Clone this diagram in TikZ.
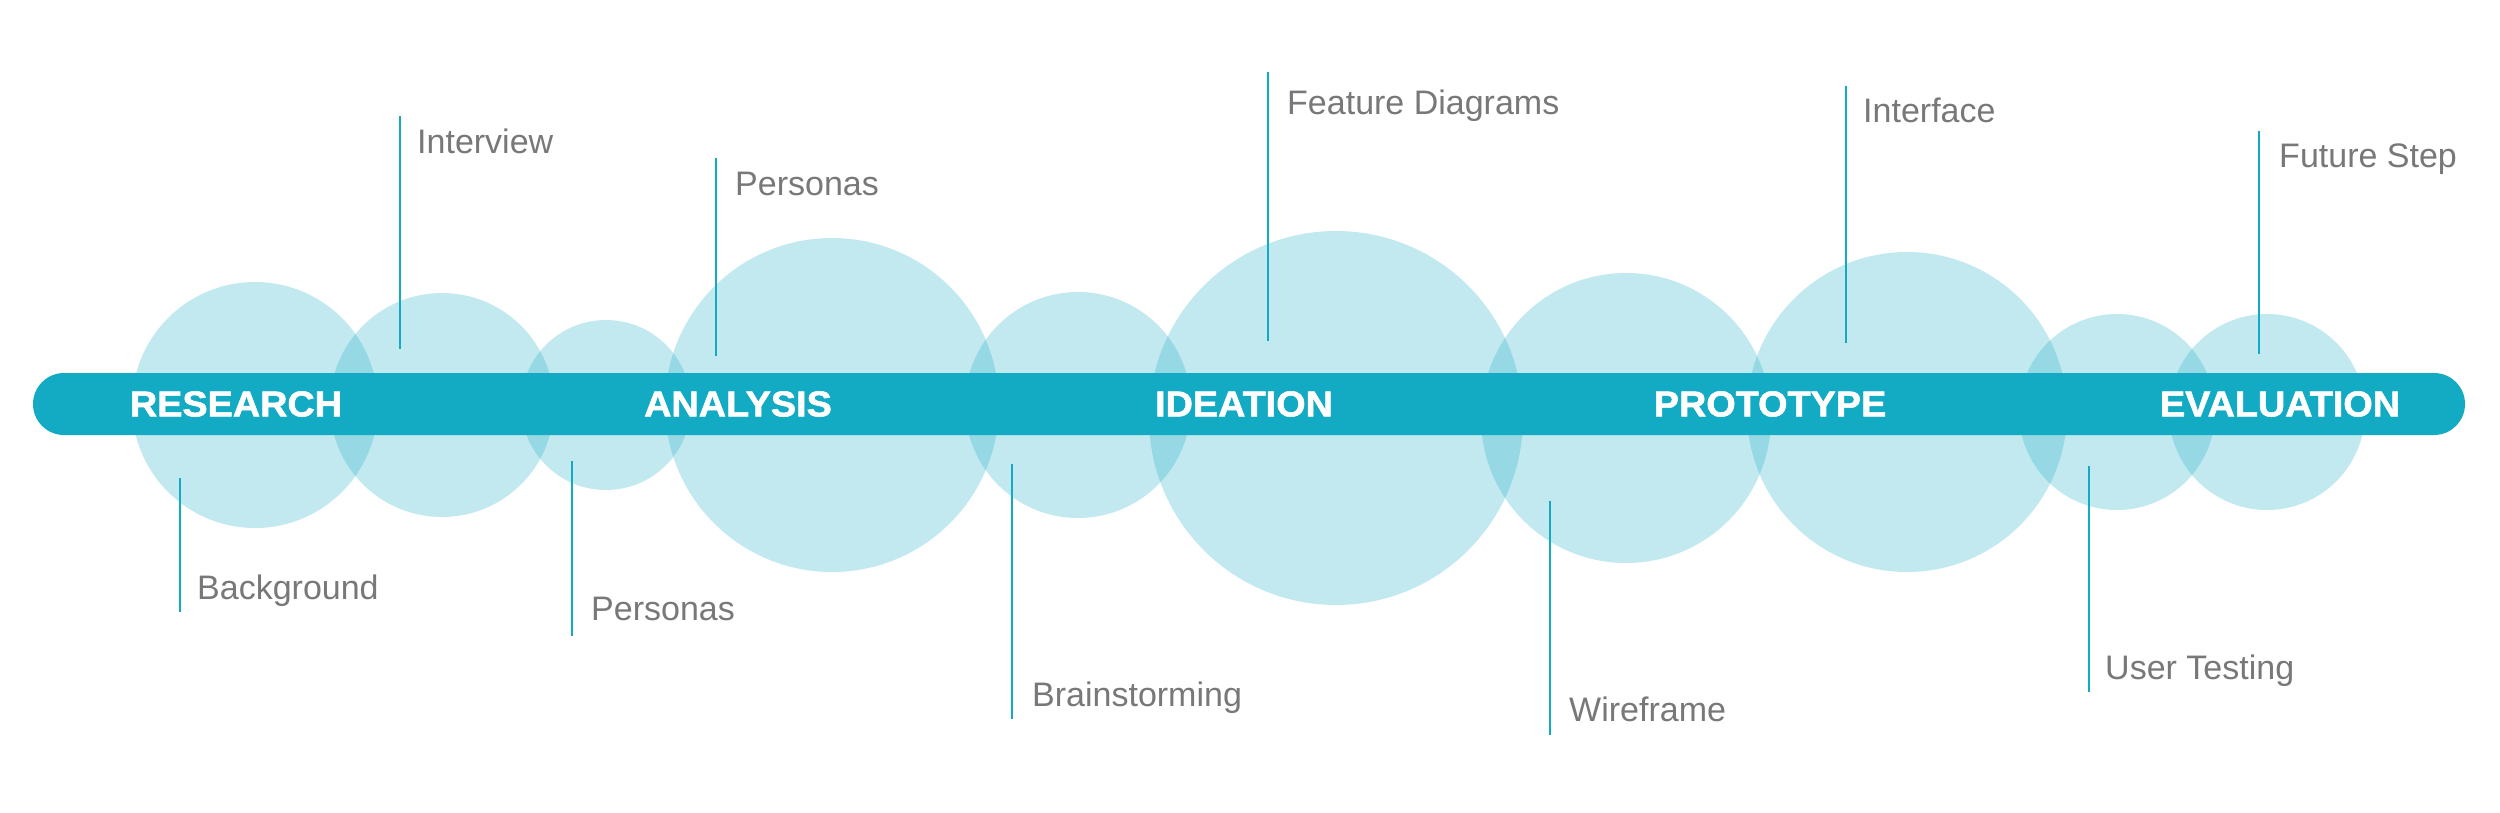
\documentclass[tikz,border=0pt]{standalone}
\usepackage{fontspec}
\setmainfont{Liberation Sans}
\newfontfamily\heavyfont{Liberation Sans Bold}[FakeBold=1.5]
\usetikzlibrary{calc}
\definecolor{barc}{HTML}{13AAC4}
\definecolor{lblc}{HTML}{787878}
\tikzset{
  bubble/.style={fill=barc, fill opacity=0.25},
  leader/.style={draw=barc, line width=2.2pt},
  lbl/.style={text=lblc, inner sep=0pt, font=\fontsize{34}{40}\selectfont},
  phase/.style={text=white, inner sep=0pt, font=\fontsize{36}{40}\heavyfont},
}
\newcommand{\ph}[1]{\scalebox{1.05}[1]{#1}}
\begin{document}
\begin{tikzpicture}[x=1pt,y=-1pt]
\useasboundingbox[fill=white] (0,0) rectangle (2500,812);
% bubbles
\fill[bubble] (255,405) circle[radius=123pt];
\fill[bubble] (442,405) circle[radius=112pt];
\fill[bubble] (606,405) circle[radius=85pt];
\fill[bubble] (832,405) circle[radius=167pt];
\fill[bubble] (1078,405) circle[radius=113pt];
\fill[bubble] (1336,418) circle[radius=187pt];
\fill[bubble] (1626,418) circle[radius=145pt];
\fill[bubble] (1907,412) circle[radius=160pt];
\fill[bubble] (2117,412) circle[radius=98pt];
\fill[bubble] (2267,412) circle[radius=98pt];
% bar
\fill[barc, rounded corners=31pt] (33,373) rectangle (2465,435);
\node[phase] (research) at (236,404) {\ph{RESEARCH}};
\node[phase] (analysis) at (738,404) {\ph{ANALYSIS}};
\node[phase] (ideation) at (1244,404) {\ph{IDEATION}};
\node[phase] (prototype) at (1770,404) {\ph{PROTOTYPE}};
\node[phase] (evaluation) at (2280,404) {\ph{EVALUATION}};
% top leaders
\coordinate (intA) at (400,116); \coordinate (intB) at (400,349);
\coordinate (perA) at (716,158); \coordinate (perB) at (716,356);
\coordinate (feaA) at (1268,72); \coordinate (feaB) at (1268,341);
\coordinate (ifcA) at (1846,86); \coordinate (ifcB) at (1846,343);
\coordinate (futA) at (2259,131); \coordinate (futB) at (2259,354);
% bottom leaders
\coordinate (bgA) at (180,478); \coordinate (bgB) at (180,612);
\coordinate (pbA) at (572,461); \coordinate (pbB) at (572,636);
\coordinate (brA) at (1012,464); \coordinate (brB) at (1012,719);
\coordinate (wfA) at (1550,501); \coordinate (wfB) at (1550,735);
\coordinate (utA) at (2089,466); \coordinate (utB) at (2089,692);
\foreach \a in {int,per,fea,ifc,fut,bg,pb,br,wf,ut}{
  \draw[leader] (\a A) -- (\a B);
}
\node[lbl, anchor=base west] (interview) at ($(intA)+(17,37)$) {Interview};
\node[lbl, anchor=base west] (personasT) at ($(perA)+(19,37)$) {Personas};
\node[lbl, anchor=base west] (feature) at ($(feaA)+(19,42)$) {Feature Diagrams};
\node[lbl, anchor=base west] (interface) at ($(ifcA)+(17,36)$) {Interface};
\node[lbl, anchor=base west] (future) at ($(futA)+(20,36)$) {Future Step};
\node[lbl, anchor=base west] (background) at ($(bgB)+(17,-13)$) {Background};
\node[lbl, anchor=base west] (personasB) at ($(pbB)+(19,-16)$) {Personas};
\node[lbl, anchor=base west] (brainstorm) at ($(brB)+(20,-13)$) {Brainstorming};
\node[lbl, anchor=base west] (wireframe) at ($(wfB)+(19,-14)$) {Wireframe};
\node[lbl, anchor=base west] (usertest) at ($(utB)+(16,-13)$) {User Testing};
\end{tikzpicture}
\end{document}
